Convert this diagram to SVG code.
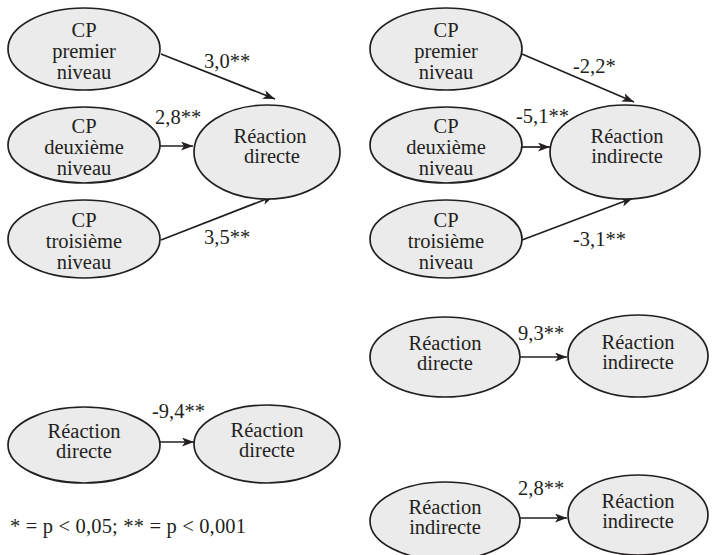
<svg xmlns="http://www.w3.org/2000/svg" width="712" height="555" viewBox="0 0 712 555">
<style>
.n ellipse{fill:#ebebeb;stroke:#231f20;stroke-width:1.7}
text{font-family:'Liberation Serif','Times New Roman',serif;font-size:20.5px;fill:#231f20}
.n text{text-anchor:middle}
.e line{stroke:#231f20;stroke-width:1.7;marker-end:url(#ah)}
</style>
<defs>
<marker id="ah" markerUnits="userSpaceOnUse" markerWidth="14" markerHeight="10" refX="12" refY="4.5" orient="auto">
<path d="M0,0 L12,4.5 L0,9 L3,4.5 z" fill="#231f20"/>
</marker>
</defs>
<rect width="712" height="555" fill="#ffffff"/>
<g class="e" id="connectors">
<line x1="161" y1="54" x2="275" y2="99"/>
<line x1="160" y1="146" x2="193" y2="146"/>
<line x1="161" y1="240" x2="274" y2="196"/>
<line x1="522" y1="54" x2="634" y2="102"/>
<line x1="522" y1="147" x2="550" y2="147"/>
<line x1="522" y1="240" x2="633" y2="198"/>
<line x1="160" y1="442" x2="194" y2="442"/>
<line x1="520" y1="357" x2="567" y2="357"/>
<line x1="520" y1="518" x2="567" y2="518"/>
</g>
<g id="labels">
<text x="204" y="68">3,0**</text>
<text x="155" y="124">2,8**</text>
<text x="204" y="244">3,5**</text>
<text x="573" y="73">-2,2*</text>
<text x="516" y="123">-5,1**</text>
<text x="573" y="246">-3,1**</text>
<text x="152" y="418">-9,4**</text>
<text x="518" y="340">9,3**</text>
<text x="518" y="495">2,8**</text>
<text x="10" y="533" textLength="236">* = p &lt; 0,05; ** = p &lt; 0,001</text>
</g>
<g class="n" id="cp1_d"><ellipse cx="84" cy="49" rx="76" ry="41"/><text x="84" y="37">CP</text><text x="84" y="58">premier</text><text x="84" y="79">niveau</text></g>
<g class="n" id="cp2_d"><ellipse cx="84" cy="145" rx="76" ry="38"/><text x="84" y="133">CP</text><text x="84" y="154">deuxième</text><text x="84" y="175">niveau</text></g>
<g class="n" id="cp3_d"><ellipse cx="84" cy="239" rx="76" ry="39"/><text x="84" y="227">CP</text><text x="84" y="248">troisième</text><text x="84" y="269">niveau</text></g>
<g class="n" id="rd_target"><ellipse cx="267" cy="152" rx="73" ry="47"/><text x="270" y="143">Réaction</text><text x="272" y="163">directe</text></g>
<g class="n" id="cp1_i"><ellipse cx="446" cy="49" rx="76" ry="41"/><text x="446" y="37">CP</text><text x="446" y="58">premier</text><text x="446" y="79">niveau</text></g>
<g class="n" id="cp2_i"><ellipse cx="446" cy="145" rx="76" ry="38"/><text x="446" y="133">CP</text><text x="446" y="154">deuxième</text><text x="446" y="175">niveau</text></g>
<g class="n" id="cp3_i"><ellipse cx="446" cy="239" rx="76" ry="39"/><text x="446" y="227">CP</text><text x="446" y="248">troisième</text><text x="446" y="269">niveau</text></g>
<g class="n" id="ri_target"><ellipse cx="625" cy="152" rx="75" ry="47"/><text x="627" y="143">Réaction</text><text x="627" y="163">indirecte</text></g>
<g class="n" id="rd_a"><ellipse cx="84" cy="445" rx="76" ry="38"/><text x="84" y="438">Réaction</text><text x="84" y="458">directe</text></g>
<g class="n" id="rd_b"><ellipse cx="267" cy="444" rx="73" ry="39"/><text x="267" y="437">Réaction</text><text x="267" y="457">directe</text></g>
<g class="n" id="rd_c"><ellipse cx="445" cy="357" rx="75" ry="40"/><text x="445" y="350">Réaction</text><text x="445" y="370">directe</text></g>
<g class="n" id="ri_d"><ellipse cx="638" cy="356" rx="70" ry="41"/><text x="638" y="349">Réaction</text><text x="638" y="369">indirecte</text></g>
<g class="n" id="ri_e"><ellipse cx="445" cy="521" rx="75" ry="39"/><text x="445" y="514">Réaction</text><text x="445" y="534">indirecte</text></g>
<g class="n" id="ri_f"><ellipse cx="638" cy="515" rx="70" ry="40"/><text x="638" y="508">Réaction</text><text x="638" y="528">indirecte</text></g>
</svg>
